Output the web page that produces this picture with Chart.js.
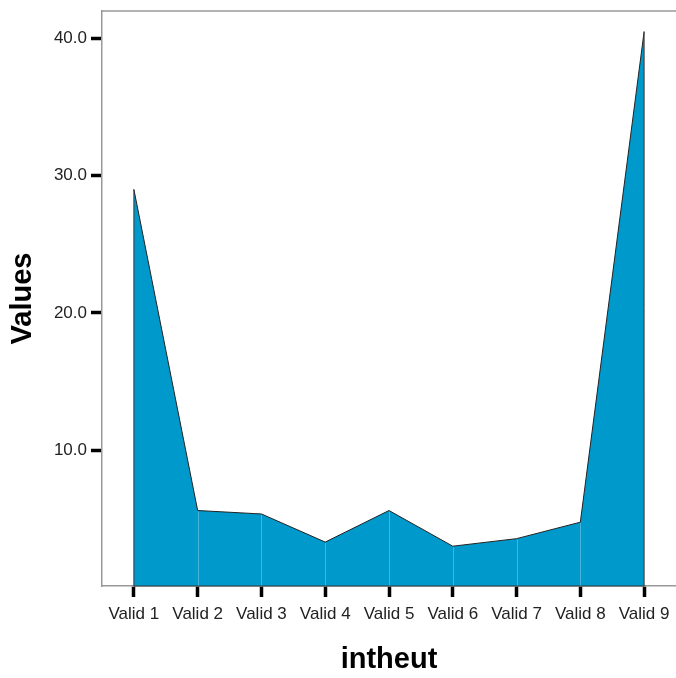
<!DOCTYPE html>
<html lang="en">
<head>
	<meta charset="UTF-8">
	<title>intheut</title>
	<script src="https://cdn.jsdelivr.net/npm/chart.js"></script>
	<style>
		body {
			margin: 0;
			background-color: #fff;
		}
		canvas {
			display: block;
		}
	</style>
</head>
<body>
<canvas id="areaChart" width="676" height="678"></canvas>

<script>
	const categories = ['Valid 1', 'Valid 2', 'Valid 3', 'Valid 4', 'Valid 5', 'Valid 6', 'Valid 7', 'Valid 8', 'Valid 9'];
	const values = [29.0, 5.6, 5.35, 3.3, 5.6, 3.0, 3.55, 4.75, 40.5];
	const yTicks = [10, 20, 30, 40];

	const fontFamily = '"Liberation Sans", Arial, sans-serif';

	// frame on top + light seams between area segments
	const framePlugin = {
		id: 'frame',
		afterDatasetsDraw(chart) {
			const {ctx, chartArea, scales} = chart;
			const x = scales.x, y = scales.y;
			ctx.save();
			ctx.lineWidth = 1;
			ctx.strokeStyle = 'rgba(120,200,230,0.6)';
			for (let i = 1; i < values.length - 1; i++) {
				const px = Math.round(x.getPixelForValue(i)) + 0.5;
				ctx.beginPath();
				ctx.moveTo(px, y.getPixelForValue(values[i]) + 1);
				ctx.lineTo(px, chartArea.bottom);
				ctx.stroke();
			}
			ctx.strokeStyle = '#333';
			const first = x.getPixelForValue(0), last = x.getPixelForValue(values.length - 1);
			ctx.beginPath();
			ctx.moveTo(first, y.getPixelForValue(values[0]));
			ctx.lineTo(first, chartArea.bottom);
			ctx.lineTo(last, chartArea.bottom);
			ctx.lineTo(last, y.getPixelForValue(values[values.length - 1]));
			ctx.stroke();
			ctx.strokeStyle = '#999';
			ctx.lineWidth = 1.5;
			ctx.beginPath();
			ctx.moveTo(chartArea.left, chartArea.top);
			ctx.lineTo(chartArea.right, chartArea.top);
			ctx.stroke();
			ctx.restore();
		}
	};

	new Chart(document.getElementById('areaChart'), {
		type: 'line',
		data: {
			labels: categories,
			datasets: [{
				data: values,
				fill: 'start',
				backgroundColor: '#0099cc',
				borderColor: '#222',
				borderWidth: 1,
				pointRadius: 0,
				tension: 0
			}]
		},
		options: {
			responsive: false,
			animation: false,
			layout: {
				padding: {top: 11, right: 0, left: 0, bottom: 0}
			},
			plugins: {
				legend: {display: false},
				tooltip: {enabled: false}
			},
			scales: {
				x: {
					offset: true,
					afterFit: scale => {
						scale.height = 92;
						scale.paddingLeft = 0;
						scale.paddingRight = 0;
					},
					grid: {
						display: true,
						drawOnChartArea: false,
						drawTicks: true,
						tickLength: 11,
						tickWidth: 3.5,
						tickColor: '#000',
						offset: false
					},
					border: {display: true, color: '#999', width: 1.5},
					ticks: {
						color: '#222',
						padding: 7,
						maxRotation: 0,
						font: {family: fontFamily, size: 17}
					},
					title: {
						display: true,
						text: 'intheut',
						color: '#000',
						padding: {top: 0, bottom: 1},
						font: {family: fontFamily, size: 29, weight: 'bold'}
					}
				},
				y: {
					min: 0.1,
					max: 42,
					afterFit: scale => {
						scale.width = 102;
						scale.paddingTop = 0;
						scale.paddingBottom = 0;
					},
					afterBuildTicks: scale => {
						scale.ticks = yTicks.map(v => ({value: v}));
					},
					grid: {
						display: true,
						drawOnChartArea: false,
						drawTicks: true,
						tickLength: 11,
						tickWidth: 3.5,
						tickColor: '#000'
					},
					border: {display: true, color: '#999', width: 1.5},
					ticks: {
						color: '#222',
						padding: 4,
						font: {family: fontFamily, size: 17},
						callback: v => v.toFixed(1)
					},
					title: {
						display: true,
						text: 'Values',
						color: '#000',
						padding: {top: 6, bottom: 0},
						font: {family: fontFamily, size: 29, weight: 'bold'}
					}
				}
			}
		},
		plugins: [framePlugin]
	});
</script>
</body>
</html>
